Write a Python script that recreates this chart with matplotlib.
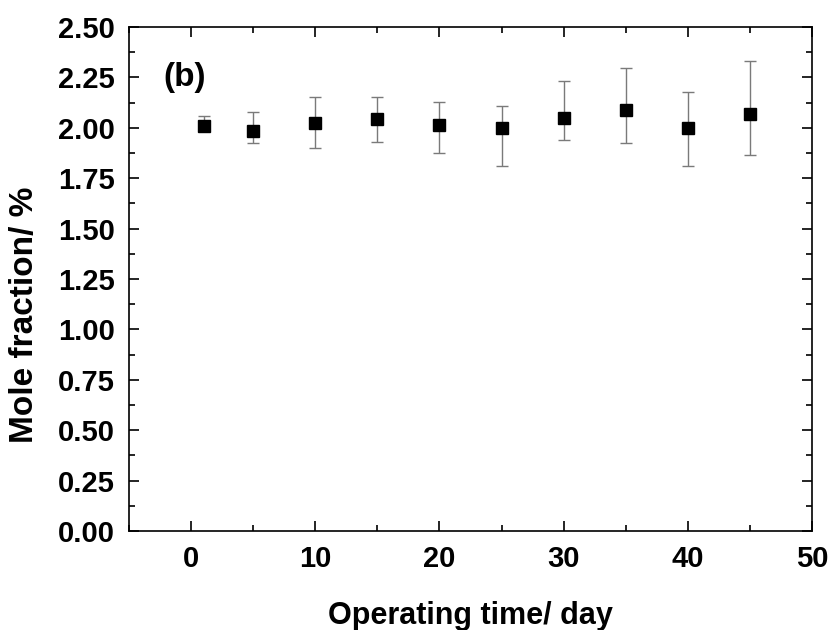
import matplotlib
matplotlib.use("Agg")
import matplotlib.pyplot as plt
from matplotlib.ticker import MultipleLocator, FormatStrFormatter

plt.rcParams["font.family"] = ["Liberation Sans", "DejaVu Sans"]
plt.rcParams["font.weight"] = "bold"

# operating day, mean mole fraction and lower / upper deviation
days = [1, 5, 10, 15, 20, 25, 30, 35, 40, 45]
mole_frac = [2.007, 1.983, 2.023, 2.043, 2.015, 1.998, 2.050, 2.086, 1.998, 2.071]
err_low = [0.02, 0.059, 0.121, 0.111, 0.139, 0.187, 0.111, 0.161, 0.187, 0.207]
err_high = [0.051, 0.095, 0.131, 0.111, 0.112, 0.111, 0.180, 0.210, 0.182, 0.262]

fig = plt.figure(figsize=(8.34, 6.30), dpi=100)
ax = fig.add_axes([0.1547, 0.1571, 0.819, 0.80])

ax.errorbar(days, mole_frac, yerr=[err_low, err_high], fmt="none",
            ecolor="#7a7a7a", elinewidth=1.0, capsize=4, capthick=1.0, zorder=2)
ax.plot(days, mole_frac, linestyle="none", marker="s", markersize=9,
        color="black", zorder=3)

ax.set_xlim(-5, 50)
ax.set_ylim(0, 2.5)
ax.xaxis.set_major_locator(MultipleLocator(10))
ax.xaxis.set_minor_locator(MultipleLocator(5))
ax.yaxis.set_major_locator(MultipleLocator(0.25))
ax.yaxis.set_minor_locator(MultipleLocator(0.125))
ax.yaxis.set_major_formatter(FormatStrFormatter("%.2f"))

ax.tick_params(which="both", direction="in", top=True, right=True, width=1.2)
ax.tick_params(which="major", length=7, labelsize=21)
ax.tick_params(axis="x", which="major", pad=10)
ax.tick_params(axis="y", which="major", pad=10)
ax.tick_params(which="minor", length=4)
for lab in ax.get_xticklabels() + ax.get_yticklabels():
    lab.set_fontweight("bold")
for sp in ax.spines.values():
    sp.set_linewidth(1.2)

ax.set_xlabel("Operating time/ day", fontsize=22, fontweight="bold")
ax.set_ylabel("Mole fraction/ %", fontsize=24, fontweight="bold")
ax.xaxis.set_label_coords(0.5, -0.139)
ax.yaxis.set_label_coords(-0.131, 0.429)

ax.text(-2.25, 2.25, "(b)", fontsize=24, fontweight="bold", va="center", ha="left")

fig.savefig("out.png", dpi=100)
